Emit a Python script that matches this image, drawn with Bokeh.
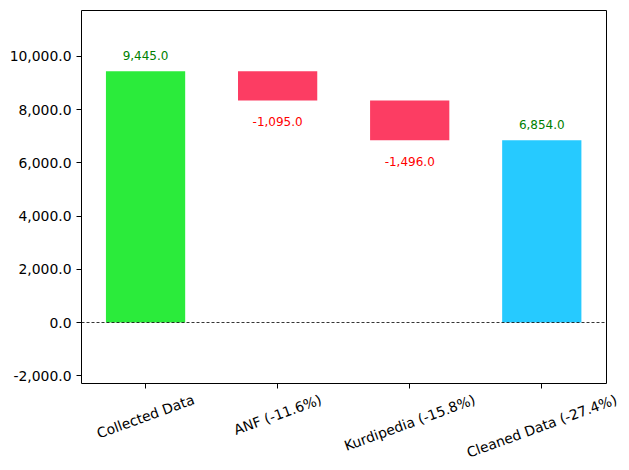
import math
from bokeh.plotting import figure
from bokeh.layouts import column
from bokeh.models import ColumnDataSource, FixedTicker, NumeralTickFormatter, Range1d, Span
from bokeh.embed import file_html
from bokeh.resources import INLINE

categories = ["Collected Data", "ANF (-11.6%)", "Kurdipedia (-15.8%)", "Cleaned Data (-27.4%)"]
values = [9445, -1095, -1496, 6854]
kinds = ["total", "delta", "delta", "total"]
bar_colors = ["#2BEB3B", "#FC3D63", "#FC3D63", "#26CAFF"]
label_colors = ["#008000", "#FF0000", "#FF0000", "#008000"]
y_ticks = [-2000, 0, 2000, 4000, 6000, 8000, 10000]

xs = list(range(len(categories)))
bottoms, tops = [], []
running = 0
for v, k in zip(values, kinds):
    if k == "total":
        bottoms.append(0)
        tops.append(v)
        running = v
    else:
        bottoms.append(running)
        tops.append(running + v)
        running = running + v

labels = ["{:,.1f}".format(v) for v in values]

src = ColumnDataSource(dict(x=xs, bottom=bottoms, top=tops, color=bar_colors))
pos_idx = [i for i, v in enumerate(values) if v > 0]
neg_idx = [i for i, v in enumerate(values) if v <= 0]
src_pos = ColumnDataSource(dict(x=[xs[i] for i in pos_idx], y=[tops[i] for i in pos_idx],
                                label=[labels[i] for i in pos_idx], lcolor=[label_colors[i] for i in pos_idx]))
src_neg = ColumnDataSource(dict(x=[xs[i] for i in neg_idx],
                                y=[min(bottoms[i], tops[i]) for i in neg_idx],
                                label=[labels[i] for i in neg_idx], lcolor=[label_colors[i] for i in neg_idx]))

FS = 13.9
W_FIG, ML, MR = 621, 81, 15
X0, X1 = -0.485, 3.49
xr = Range1d(X0, X1)
Y0, Y1 = -2293, 11729
p = figure(width=W_FIG, height=391, output_backend="svg", toolbar_location=None,
           x_range=xr, y_range=Range1d(Y0, Y1),
           min_border_left=ML, min_border_top=10, min_border_right=MR, min_border_bottom=8)

p.vbar(x="x", bottom="bottom", top="top", width=0.6, color="color", line_color=None, source=src)

p.add_layout(Span(location=0, dimension="width", line_color="black", line_width=0.8,
                  line_dash="3 2"))

p.text(x="x", y="y", text="label", text_color="lcolor", source=src_pos,
       text_align="center", text_baseline="middle", y_offset=-16,
       text_font_size="12px", text_font={"value": "DejaVu Sans"})
p.text(x="x", y="y", text="label", text_color="lcolor", source=src_neg,
       text_align="center", text_baseline="middle", y_offset=21,
       text_font_size="12px", text_font={"value": "DejaVu Sans"})

p.xgrid.visible = False
p.ygrid.visible = False
p.outline_line_color = "black"
p.outline_line_width = 1
p.outline_line_alpha = 1

p.xaxis.ticker = FixedTicker(ticks=xs)
p.xaxis.major_label_overrides = {i: "" for i in xs}
p.xaxis.major_label_text_font_size = "0px"
p.xaxis.major_label_standoff = 0
p.yaxis.ticker = FixedTicker(ticks=y_ticks)
p.yaxis.formatter = NumeralTickFormatter(format="0,0.0")
p.yaxis.major_label_text_font = "DejaVu Sans"
p.yaxis.major_label_text_font_size = f"{FS}px"
p.yaxis.major_label_text_color = "black"
p.yaxis.major_label_standoff = 5

for ax in (p.xaxis, p.yaxis):
    ax.axis_line_color = None
    ax.major_tick_in = 0
    ax.major_tick_out = 5
    ax.minor_tick_line_color = None
    ax.major_tick_line_color = "black"

# rotated, centred category labels (matplotlib style) in a strip below the plot
W = {' ': .318, '(': .390, ')': .390, '-': .361, '%': .950, '.': .318, 'C': .698, 'o': .612,
     'l': .278, 'e': .615, 'c': .550, 't': .392, 'd': .635, 'D': .770, 'a': .613, 'A': .684,
     'N': .748, 'F': .575, 'K': .656, 'u': .634, 'r': .411, 'i': .278, 'p': .635, 'n': .634}
ang = math.radians(20)
offs = []
for c in categories:
    w = sum(W.get(ch, .636) for ch in c) * FS
    h = FS * 0.82
    H = w * math.sin(ang) + h * math.cos(ang)
    offs.append(2 + H / 2)
src_cat = ColumnDataSource(dict(x=xs, y=[1] * len(xs), label=categories, off=offs))

# same x scale as the main plot, frame extended to the right edge so labels aren't clipped
per_px = (X1 - X0) / (W_FIG - ML - MR)
xr2 = Range1d(X0, X1 + MR * per_px)
p2 = figure(width=W_FIG, height=77, output_backend="svg", toolbar_location=None,
            x_range=xr2, y_range=Range1d(0, 1), x_axis_type=None, y_axis_type=None,
            min_border_left=ML, min_border_right=0, min_border_top=0, min_border_bottom=0)
for fig in (p, p2):
    if "frame_align" in fig.properties():
        fig.frame_align = False
p2.xgrid.visible = False
p2.ygrid.visible = False
p2.outline_line_color = None
p2.text(x="x", y="y", text="label", source=src_cat, y_offset="off", angle=ang,
        text_align="center", text_baseline="middle", text_color="black",
        text_font={"value": "DejaVu Sans"}, text_font_size=f"{FS}px")

open("out.html", "w").write(file_html(column(p, p2, spacing=0), INLINE))
